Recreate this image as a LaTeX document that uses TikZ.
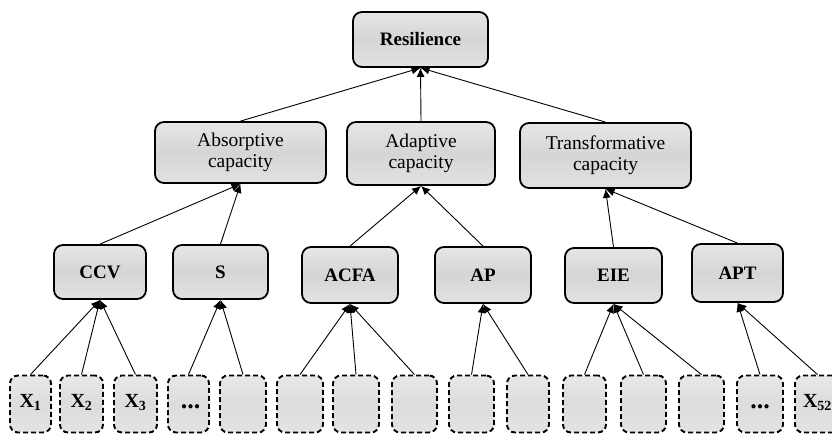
\documentclass[tikz,border=0pt]{standalone}
\usepackage{fontspec}
\setmainfont{Liberation Serif}
\usetikzlibrary{arrows.meta}
\definecolor{boxtop}{RGB}{230,230,230}
\definecolor{boxmid}{RGB}{213,213,213}
\definecolor{boxbot}{RGB}{226,226,226}
\definecolor{leaftop}{RGB}{232,232,232}
\definecolor{leafmid}{RGB}{220,220,220}
\definecolor{leafbot}{RGB}{228,228,228}
\newcommand{\lsub}[1]{\textsubscript{\fontsize{14}{16}\selectfont #1}}
\newcommand{\leafdots}{\scalebox{1.3}{...}}
\tikzset{
  mainbox/.style={draw=black, line width=1.8pt, rounded corners=9pt,
    top color=boxtop, bottom color=boxbot, middle color=boxmid,
    inner sep=0pt, align=center},
  capbox/.style={mainbox, font=\fontsize{19.5}{21}\selectfont},
  subbox/.style={mainbox, font=\bfseries\fontsize{19}{21}\selectfont},
  leafbox/.style={draw=black, line width=1.9pt, dash pattern=on 5pt off 3pt,
    rounded corners=8pt, top color=leaftop, bottom color=leafbot, middle color=leafmid,
    minimum height=57pt, inner sep=0pt,
    font=\bfseries\fontsize{20}{22}\selectfont},
  arr/.style={line width=0.9pt, -{Latex[length=9pt,width=8pt]}}
}
\begin{document}
\begin{tikzpicture}[x=1pt,y=-1pt]
\useasboundingbox (0,0) rectangle (832,435);
\clip (0,0) rectangle (832,435);
% top
\node[subbox, minimum width=135pt, minimum height=55pt] (res) at (420.5,39.5) {Resilience};
% capacities
\node[capbox, minimum width=171pt, minimum height=61pt] (abs) at (240.5,152.5) {Absorptive\\capacity};
\node[capbox, minimum width=148pt, minimum height=63pt] (ada) at (421,153.5) {Adaptive\\capacity};
\node[capbox, minimum width=171pt, minimum height=65pt] (tra) at (605.5,155.5) {Transformative\\capacity};
% sub-dimensions
\node[subbox, minimum width=92pt, minimum height=54pt] (ccv) at (100,272) {CCV};
\node[subbox, minimum width=95pt, minimum height=54pt] (s) at (220.5,272) {S};
\node[subbox, minimum width=96pt, minimum height=56pt] (acfa) at (350,275) {ACFA};
\node[subbox, minimum width=96pt, minimum height=56pt] (ap) at (483,275) {AP};
\node[subbox, minimum width=97pt, minimum height=55pt] (eie) at (613.5,275.5) {EIE};
\node[subbox, minimum width=91pt, minimum height=58pt] (apt) at (737.5,273) {APT};
% leaves
\node[leafbox, minimum width=41pt] (b1) at (30.5,404) {\raisebox{7pt}{X\lsub{1}}};
\node[leafbox, minimum width=43pt] (b2) at (81.5,404) {\raisebox{7pt}{X\lsub{2}}};
\node[leafbox, minimum width=43pt] (b3) at (135.5,404) {\raisebox{7pt}{X\lsub{3}}};
\node[leafbox, minimum width=41pt] (b4) at (188.5,404) {\hspace*{4pt}\raisebox{-9pt}{\leafdots}};
\node[leafbox, minimum width=46pt] (b5) at (243,404) {};
\node[leafbox, minimum width=46pt] (b6) at (300,404) {};
\node[leafbox, minimum width=46pt] (b7) at (356,404) {};
\node[leafbox, minimum width=45pt] (b8) at (414.5,404) {};
\node[leafbox, minimum width=45pt] (b9) at (471.5,404) {};
\node[leafbox, minimum width=42pt] (b10) at (528,404) {};
\node[leafbox, minimum width=43pt] (b11) at (584.5,404) {};
\node[leafbox, minimum width=45pt] (b12) at (643.5,404) {};
\node[leafbox, minimum width=45pt] (b13) at (701.5,404) {};
\node[leafbox, minimum width=46pt] (b14) at (760,404) {\raisebox{-9pt}{\leafdots}};
\node[leafbox, minimum width=45pt] (b15) at (817.5,404) {\raisebox{7pt}{X\lsub{52}}};
% edges: capacities -> resilience
\draw[arr] (abs.north) -- (res.south);
\draw[arr] (ada.north) -- (res.south);
\draw[arr] (tra.north) -- (res.south);
% sub -> capacities
\draw[arr] (ccv.north) -- (abs.south);
\draw[arr] (s.north) -- (abs.south);
\draw[arr] (acfa.north) -- (ada.south);
\draw[arr] (ap.north) -- (ada.south);
\draw[arr] (eie.north) -- (tra.south);
\draw[arr] (apt.north) -- (tra.south);
% leaves -> sub
\draw[arr] (b1.north) -- (ccv.south);
\draw[arr] (b2.north) -- (ccv.south);
\draw[arr] (b3.north) -- (ccv.south);
\draw[arr] (b4.north) -- (s.south);
\draw[arr] (b5.north) -- (s.south);
\draw[arr] (b6.north) -- (acfa.south);
\draw[arr] (b7.north) -- (acfa.south);
\draw[arr] (b8.north) -- (acfa.south);
\draw[arr] (b9.north) -- (ap.south);
\draw[arr] (b10.north) -- (ap.south);
\draw[arr] (b11.north) -- (eie.south);
\draw[arr] (b12.north) -- (eie.south);
\draw[arr] (b13.north) -- (eie.south);
\draw[arr] (b14.north) -- (apt.south);
\draw[arr] (b15.north) -- (apt.south);
\end{tikzpicture}
\end{document}
